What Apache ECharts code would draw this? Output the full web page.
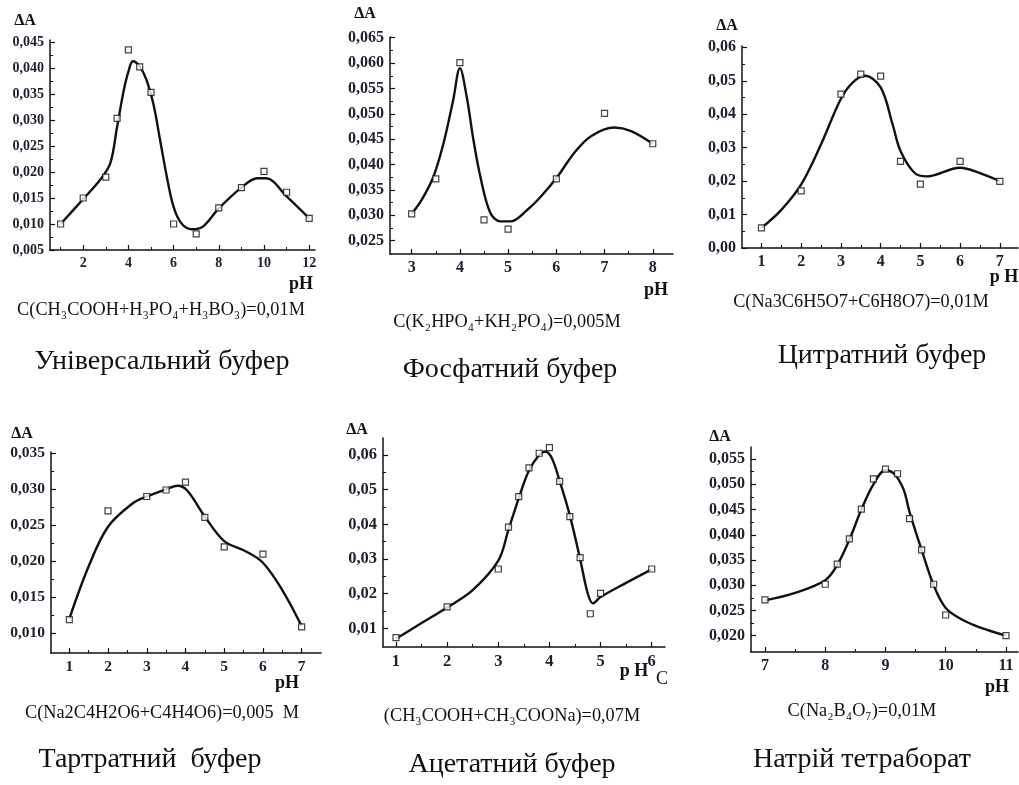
<!DOCTYPE html>
<html>
<head>
<meta charset="utf-8">
<script src="https://cdn.jsdelivr.net/npm/echarts@6/dist/echarts.min.js"></script>
<style>
html,body{margin:0;padding:0;background:#fff;}
#chart{width:1019px;height:785px;}
</style>
</head>
<body>
<div id="chart"></div>
<script>
// ---------- DATA ----------
// Panel 1: universal buffer
const p1PhPoints = [1, 2, 3, 3.5, 4, 4.5, 5, 6, 7, 8, 9, 10, 11, 12];
const p1DaPoints = [0.010, 0.015, 0.019, 0.0303, 0.0435, 0.0402, 0.0353, 0.010, 0.0081, 0.0131, 0.017, 0.0201, 0.0161, 0.0111];
const p1PhCurve = [1, 2, 2.75, 3.2, 3.5, 3.8, 4, 4.2, 4.5, 4.8, 5.1, 5.4, 5.7, 6, 6.35, 6.8, 7.3, 8, 9, 9.7, 10.1, 11, 12];
const p1DaCurve = [0.010, 0.0148, 0.0185, 0.0217, 0.0287, 0.0358, 0.0393, 0.0413, 0.0403, 0.0377, 0.0332, 0.0262, 0.0191, 0.0133, 0.0101, 0.0090, 0.0095, 0.0130, 0.0170, 0.0188, 0.0188, 0.0153, 0.0111];
const p1XTicks = [2, 4, 6, 8, 10, 12];
const p1XMinor = [1, 3, 5, 7, 9, 11];
const p1YTicks = [0.005, 0.010, 0.015, 0.020, 0.025, 0.030, 0.035, 0.040, 0.045];
const p1YMinor = [0.0075, 0.0125, 0.0175, 0.0225, 0.0275, 0.0325, 0.0375, 0.0425];

// Panel 2: phosphate buffer
const p2PhPoints = [3, 3.5, 4, 4.5, 5, 6, 7, 8];
const p2DaPoints = [0.0303, 0.0372, 0.0601, 0.0291, 0.0273, 0.0372, 0.0501, 0.0441];
const p2PhCurve = [3, 3.21, 3.45, 3.66, 3.86, 4.0, 4.14, 4.28, 4.42, 4.63, 4.84, 5.05, 5.4, 5.68, 6.03, 6.37, 6.72, 7.2, 7.55, 8];
const p2DaCurve = [0.0303, 0.0331, 0.0376, 0.0442, 0.0527, 0.0590, 0.0534, 0.0449, 0.0378, 0.0305, 0.0288, 0.0288, 0.0311, 0.0337, 0.0377, 0.0423, 0.0456, 0.0473, 0.0466, 0.0441];
const p2XTicks = [3, 4, 5, 6, 7, 8];
const p2XMinor = [3.5, 4.5, 5.5, 6.5, 7.5];
const p2YTicks = [0.025, 0.030, 0.035, 0.040, 0.045, 0.050, 0.055, 0.060, 0.065];
const p2YMinor = [0.0275, 0.0325, 0.0375, 0.0425, 0.0475, 0.0525, 0.0575, 0.0625];

// Panel 3: citrate buffer
const p3PhPoints = [1, 2, 3, 3.5, 4, 4.5, 5, 6, 7];
const p3DaPoints = [0.006, 0.0171, 0.046, 0.052, 0.0514, 0.0259, 0.0191, 0.0259, 0.0199];
const p3PhCurve = [1, 1.5, 2, 2.5, 3, 3.3, 3.6, 4, 4.3, 4.5, 4.85, 5.15, 6, 6.5, 7];
const p3DaCurve = [0.006, 0.0114, 0.019, 0.031, 0.0446, 0.0495, 0.0515, 0.048, 0.037, 0.029, 0.0225, 0.0214, 0.024, 0.0224, 0.020];
const p3XTicks = [1, 2, 3, 4, 5, 6, 7];
const p3XMinor = [1.5, 2.5, 3.5, 4.5, 5.5, 6.5];
const p3YTicks = [0, 0.01, 0.02, 0.03, 0.04, 0.05, 0.06];
const p3YMinor = [0.005, 0.015, 0.025, 0.035, 0.045, 0.055];

// Panel 4: tartrate buffer
const p4PhPoints = [1, 2, 3, 3.5, 4, 4.5, 5, 6, 7];
const p4DaPoints = [0.0119, 0.027, 0.029, 0.0299, 0.031, 0.0261, 0.022, 0.021, 0.0109];
const p4PhCurve = [1, 1.5, 2, 2.65, 3, 3.5, 3.8, 4.05, 4.5, 5, 5.55, 6, 6.5, 7];
const p4DaCurve = [0.012, 0.0193, 0.0248, 0.0281, 0.029, 0.030, 0.0305, 0.0298, 0.0262, 0.0228, 0.0214, 0.0198, 0.016, 0.011];
const p4XTicks = [1, 2, 3, 4, 5, 6, 7];
const p4XMinor = [1.5, 2.5, 3.5, 4.5, 5.5, 6.5];
const p4YTicks = [0.010, 0.015, 0.020, 0.025, 0.030, 0.035];
const p4YMinor = [0.0125, 0.0175, 0.0225, 0.0275, 0.0325];

// Panel 5: acetate buffer
const p5PhPoints = [1, 2, 3, 3.2, 3.4, 3.6, 3.8, 4, 4.2, 4.4, 4.6, 4.8, 5, 6];
const p5DaPoints = [0.0073, 0.0162, 0.0271, 0.0392, 0.048, 0.0563, 0.0605, 0.0621, 0.0524, 0.0422, 0.0304, 0.0142, 0.0201, 0.0271];
const p5PhCurve = [1, 1.5, 2, 2.5, 3, 3.2, 3.4, 3.6, 3.8, 3.92, 4.05, 4.2, 4.4, 4.6, 4.75, 4.85, 5, 5.5, 6];
const p5DaCurve = [0.007, 0.0115, 0.016, 0.021, 0.0295, 0.0385, 0.0475, 0.0555, 0.060, 0.061, 0.059, 0.0525, 0.0425, 0.030, 0.020, 0.0172, 0.019, 0.0231, 0.027];
const p5XTicks = [1, 2, 3, 4, 5, 6];
const p5XMinor = [1.5, 2.5, 3.5, 4.5, 5.5];
const p5YTicks = [0.01, 0.02, 0.03, 0.04, 0.05, 0.06];
const p5YMinor = [0.015, 0.025, 0.035, 0.045, 0.055];

// Panel 6: sodium tetraborate
const p6PhPoints = [7, 8, 8.2, 8.4, 8.6, 8.8, 9, 9.2, 9.4, 9.6, 9.8, 10, 11];
const p6DaPoints = [0.0271, 0.0302, 0.0342, 0.0392, 0.0451, 0.0511, 0.053, 0.0521, 0.0432, 0.037, 0.0302, 0.0241, 0.020];
const p6PhCurve = [7, 7.5, 8, 8.2, 8.4, 8.6, 8.8, 9, 9.15, 9.3, 9.4, 9.6, 9.8, 10, 10.3, 10.6, 11];
const p6DaCurve = [0.027, 0.0285, 0.031, 0.034, 0.039, 0.045, 0.050, 0.0528, 0.052, 0.049, 0.0445, 0.037, 0.030, 0.0255, 0.023, 0.0215, 0.020];
const p6XTicks = [7, 8, 9, 10, 11];
const p6XMinor = [7.5, 8.5, 9.5, 10.5];
const p6YTicks = [0.020, 0.025, 0.030, 0.035, 0.040, 0.045, 0.050, 0.055];
const p6YMinor = [0.0225, 0.0275, 0.0325, 0.0375, 0.0425, 0.0475, 0.0525];

const yLabel = 'ΔA';
const titles = ['Універсальний буфер', 'Фосфатний буфер', 'Цитратний буфер', 'Тартратний  буфер', 'Ацетатний буфер', 'Натрій тетраборат'];
const subtitles = ['C(CH₃COOH+H₃PO₄+H₃BO₃)=0,01M', 'C(K₂HPO₄+KH₂PO₄)=0,005M', 'C(Na3C6H5O7+C6H8O7)=0,01M', 'C(Na2C4H2O6+C4H4O6)=0,005  M', '(CH₃COOH+CH₃COONa)=0,07M', 'C(Na₂B₄O₇)=0,01M'];
const xNames = ['pH', 'pH', 'p H', 'pH', 'p H', 'pH'];

// ---------- LAYOUT ----------
const panels = [
  {pts:[p1PhPoints,p1DaPoints], cur:[p1PhCurve,p1DaCurve], xt:p1XTicks, xm:p1XMinor, yt:p1YTicks, ym:p1YMinor, dec:3, fs:14,
   grid:{left:50, top:40, width:265, height:210}, x:[0.531, 12.257], y:[0.005, 0.04538],
   dA:[25,21], ph:[301,284], sub:[161,310], title:[162,362]},
  {pts:[p2PhPoints,p2DaPoints], cur:[p2PhCurve,p2DaCurve], xt:p2XTicks, xm:p2XMinor, yt:p2YTicks, ym:p2YMinor, dec:3, fs:16,
   grid:{left:390, top:37, width:283, height:217}, x:[2.55, 8.42], y:[0.02238, 0.06514],
   dA:[365,14], ph:[656,290], sub:[507,322], title:[510,370]},
  {pts:[p3PhPoints,p3DaPoints], cur:[p3PhCurve,p3DaCurve], xt:p3XTicks, xm:p3XMinor, yt:p3YTicks, ym:p3YMinor, dec:2, fs:16,
   grid:{left:742, top:46, width:276, height:202}, x:[0.51, 7.457], y:[0, 0.06039],
   dA:[727,26], ph:[1004,277], sub:[861,302], title:[882,356]},
  {pts:[p4PhPoints,p4DaPoints], cur:[p4PhCurve,p4DaCurve], xt:p4XTicks, xm:p4XMinor, yt:p4YTicks, ym:p4YMinor, dec:3, fs:15.5,
   grid:{left:51, top:452, width:270, height:201}, x:[0.527, 7.5], y:[0.00726, 0.03518],
   dA:[22,434], ph:[287,683], sub:[162,713], title:[150,760]},
  {pts:[p5PhPoints,p5DaPoints], cur:[p5PhCurve,p5DaCurve], xt:p5XTicks, xm:p5XMinor, yt:p5YTicks, ym:p5YMinor, dec:2, fs:16.5,
   grid:{left:383, top:438, width:282, height:209}, x:[0.746, 6.26], y:[0.0046, 0.0649],
   dA:[357,430], ph:[634,671], sub:[512,716], title:[512,765]},
  {pts:[p6PhPoints,p6DaPoints], cur:[p6PhCurve,p6DaCurve], xt:p6XTicks, xm:p6XMinor, yt:p6YTicks, ym:p6YMinor, dec:3, fs:16,
   grid:{left:751, top:447, width:267, height:205}, x:[6.768, 11.2], y:[0.01677, 0.0574],
   dA:[720,437], ph:[997,687], sub:[862,711], title:[862,760]}
];

const FONT = '"Liberation Serif", "Times New Roman", "DejaVu Serif", serif';
const INK = '#111111';
const LABEL_INK = '#1b1f2e';
const zip = (a, b) => a.map((v, i) => [v, b[i]]);

const grids = [], xAxes = [], yAxes = [], series = [], graphics = [];
panels.forEach((p, i) => {
  grids.push(Object.assign({containLabel:false}, p.grid));
  const labelStyle = {fontFamily:FONT, fontWeight:'bold', fontSize:p.fs, color:LABEL_INK};
  xAxes.push({type:'value', gridIndex:i, position:'bottom', min:p.x[0], max:p.x[1],
    axisLine:{show:true, onZero:false, lineStyle:{color:INK, width:1.5}},
    axisTick:{show:true, inside:true, length:5, customValues:p.xt, lineStyle:{color:INK, width:1.2}},
    axisLabel:Object.assign({show:true, margin:6, customValues:p.xt, formatter:v => String(v)}, labelStyle),
    splitLine:{show:false}});
  xAxes.push({type:'value', gridIndex:i, position:'bottom', min:p.x[0], max:p.x[1],
    axisLine:{show:false, onZero:false},
    axisTick:{show:true, inside:true, length:3, customValues:p.xm, lineStyle:{color:INK, width:1}},
    axisLabel:{show:false}, splitLine:{show:false}});
  yAxes.push({type:'value', gridIndex:i, position:'left', min:p.y[0], max:p.y[1],
    axisLine:{show:true, onZero:false, lineStyle:{color:INK, width:1.5}},
    axisTick:{show:true, inside:true, length:5, customValues:p.yt, lineStyle:{color:INK, width:1.2}},
    axisLabel:Object.assign({show:true, margin:6, customValues:p.yt,
      formatter:v => v.toFixed(p.dec).replace('.', ',')}, labelStyle),
    splitLine:{show:false}});
  yAxes.push({type:'value', gridIndex:i, position:'left', min:p.y[0], max:p.y[1],
    axisLine:{show:false, onZero:false},
    axisTick:{show:true, inside:true, length:3, customValues:p.ym, lineStyle:{color:INK, width:1}},
    axisLabel:{show:false}, splitLine:{show:false}});

  series.push({type:'line', xAxisIndex:2*i, yAxisIndex:2*i, data:zip(p.cur[0], p.cur[1]),
    smooth:0.35, showSymbol:false, symbol:'none', lineStyle:{color:INK, width:2.4}, z:2, animation:false});
  series.push({type:'scatter', xAxisIndex:2*i, yAxisIndex:2*i, data:zip(p.pts[0], p.pts[1]),
    symbol:'rect', symbolSize:6, itemStyle:{color:'#ffffff', borderColor:INK, borderWidth:1.2}, z:3, animation:false});

  graphics.push({type:'text', x:p.dA[0], y:p.dA[1], style:{text:yLabel, font:'bold 16px ' + FONT, fill:INK, align:'center', verticalAlign:'middle'}});
  graphics.push({type:'text', x:p.ph[0], y:p.ph[1], style:{text:xNames[i], font:'bold 18px ' + FONT, fill:INK, align:'center', verticalAlign:'middle'}});
  graphics.push({type:'text', x:p.sub[0], y:p.sub[1], style:{text:subtitles[i], font:'18.3px ' + FONT, fill:INK, align:'center', verticalAlign:'middle'}});
  graphics.push({type:'text', x:p.title[0], y:p.title[1], style:{text:titles[i], font:'28px ' + FONT, fill:INK, align:'center', verticalAlign:'middle'}});
});
graphics.push({type:'text', x:662, y:679, style:{text:'C', font:'18px ' + FONT, fill:INK, align:'center', verticalAlign:'middle'}});

const chart = echarts.init(document.getElementById('chart'), null, {renderer:'canvas'});
chart.setOption({
  backgroundColor:'#ffffff',
  animation:false,
  grid:grids, xAxis:xAxes, yAxis:yAxes, series:series,
  graphic:{elements:graphics}
});
</script>
</body>
</html>
